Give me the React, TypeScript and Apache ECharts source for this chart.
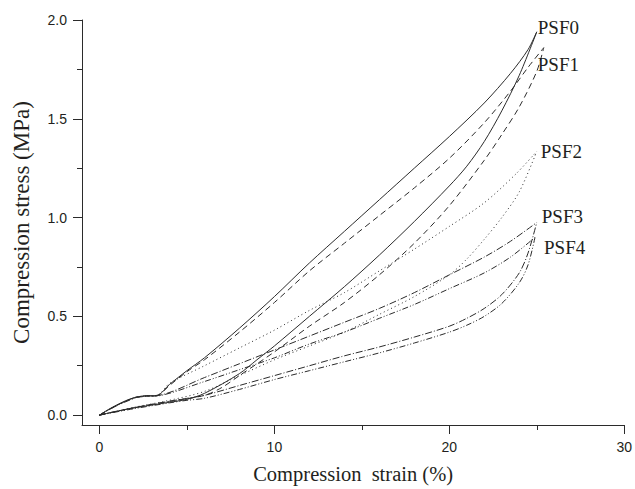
import React, { useEffect, useRef } from "react";
import * as echarts from "echarts";

// strain (%) , stress (MPa) pairs
const psf0Load = [[0,0],[0.5,0.028],[1,0.052],[1.5,0.073],[2,0.089],[2.5,0.097],[3.3,0.1],[4,0.155],[5,0.225],[6,0.29],[8,0.44],[10,0.6],[12,0.77],[14,0.93],[16,1.09],[18,1.25],[20,1.41],[22,1.58],[23.5,1.73],[24.5,1.85],[25,1.94]];
const psf0Unload = [[0,0],[1,0.02],[2,0.037],[4,0.065],[5,0.08],[6,0.11],[8,0.21],[9,0.28],[10,0.35],[12,0.5],[14,0.65],[16,0.81],[18,0.98],[20,1.16],[21,1.26],[22,1.385],[23,1.54],[24,1.72],[25,1.94]];
const psf1Load = [[0,0],[0.5,0.026],[1,0.05],[1.5,0.071],[2,0.088],[2.5,0.096],[3.3,0.1],[4,0.15],[5,0.22],[6,0.28],[8,0.42],[10,0.57],[12,0.73],[14,0.87],[16,1.01],[18,1.15],[20,1.3],[22,1.48],[23.5,1.64],[24.5,1.76],[25.4,1.86]];
const psf1Unload = [[0,0],[2,0.038],[4,0.07],[6,0.1],[7,0.14],[8,0.2],[10,0.32],[12,0.45],[14,0.57],[16,0.71],[18,0.87],[20,1.06],[22,1.29],[23,1.42],[24,1.56],[25,1.74],[25.4,1.86]];
const psf2Load = [[0,0],[1,0.05],[2,0.088],[2.5,0.096],[3.3,0.1],[4,0.16],[6,0.25],[8,0.34],[10,0.43],[12,0.53],[14,0.62],[16,0.73],[18,0.84],[20,0.955],[22,1.075],[23.8,1.22],[25,1.335]];
const psf2Unload = [[0,0],[2,0.04],[4,0.075],[6,0.12],[8,0.2],[10,0.28],[12,0.35],[14,0.42],[16,0.51],[18,0.6],[20,0.71],[21,0.79],[22,0.89],[23,1.0],[24,1.13],[25,1.335]];
const psf3Load = [[0,0],[1,0.05],[2,0.088],[2.5,0.096],[3.4,0.1],[6,0.19],[8,0.26],[10,0.33],[12,0.4],[14,0.47],[16,0.54],[18,0.62],[20,0.71],[22,0.8],[23.5,0.88],[25,0.975]];
const psf3Unload = [[0,0],[2,0.038],[4,0.07],[5,0.085],[6,0.1],[8,0.15],[10,0.2],[12,0.25],[14,0.3],[16,0.345],[18,0.395],[20,0.45],[21,0.49],[22,0.54],[23,0.61],[24,0.72],[24.5,0.82],[25,0.975]];
const psf4Load = [[0,0],[1,0.048],[2,0.085],[2.5,0.094],[3.4,0.098],[6,0.17],[8,0.23],[10,0.29],[12,0.36],[14,0.42],[16,0.49],[18,0.56],[20,0.64],[22,0.72],[23.5,0.8],[24.9,0.9]];
const psf4Unload = [[0,0],[2,0.033],[4,0.062],[5,0.075],[6,0.085],[8,0.13],[10,0.18],[12,0.225],[14,0.27],[16,0.315],[18,0.365],[20,0.42],[21,0.455],[22,0.5],[23,0.565],[24,0.67],[24.5,0.76],[24.9,0.9]];

const sampleNames = ["PSF0", "PSF1", "PSF2", "PSF3", "PSF4"];
const xMajorTicks = [0, 10, 20, 30];
const xMinorTicks = [5, 15, 25];
const yMajorTicks = [0, 0.5, 1.0, 1.5, 2.0];
const yMinorTicks = [0.25, 0.75, 1.25, 1.75];

const LINE = "#2b2b2b";
const TEXT = "#231f20";

export default function App() {
  const ref = useRef<HTMLDivElement>(null);
  useEffect(() => {
    if (!ref.current) return;
    const chart = echarts.init(ref.current, undefined, { renderer: "svg" });
    const dashes: any[] = ["solid", [6, 4], [1, 3], [7, 2, 1, 2], [6, 2, 1, 2, 1, 2]];
    const loads = [psf0Load, psf1Load, psf2Load, psf3Load, psf4Load];
    const unloads = [psf0Unload, psf1Unload, psf2Unload, psf3Unload, psf4Unload];
    const labelOffsets = [[1, -4], [-6, 17], [4, 0], [5, -6], [9, 10]];
    const series: any[] = [];
    sampleNames.forEach((n, i) => {
      const common = {
        type: "line",
        showSymbol: false,
        smooth: 0.3,
        xAxisIndex: 0,
        yAxisIndex: 0,
        lineStyle: { color: LINE, width: 1, type: dashes[i] },
        emphasis: { disabled: true },
      };
      series.push({
        ...common,
        name: n,
        data: loads[i],
        endLabel: {
          show: true,
          formatter: n,
          distance: 0,
          offset: labelOffsets[i],
          align: "left",
          verticalAlign: "middle",
          fontFamily: "Liberation Serif",
          fontSize: 19,
          color: TEXT,
        },
      });
      series.push({ ...common, name: n + " unload", data: unloads[i] });
    });
    chart.setOption({
      animation: false,
      backgroundColor: "#fff",
      grid: { left: 82, top: 20, right: 9, bottom: 64, containLabel: false },
      xAxis: [
        {
          type: "value", min: -1, max: 30, position: "bottom",
          axisLine: { show: true, onZero: false, lineStyle: { color: LINE, width: 1 } },
          axisTick: { show: true, length: 9, customValues: xMajorTicks, lineStyle: { color: LINE } },
          axisLabel: { customValues: xMajorTicks, margin: 15, fontFamily: "Liberation Sans", fontSize: 14, color: TEXT },
          splitLine: { show: false },
          name: "Compression  strain (%)", nameLocation: "middle", nameGap: 38,
          nameTextStyle: { fontFamily: "Liberation Serif", fontSize: 20.5, color: TEXT },
        },
        {
          type: "value", min: -1, max: 30, position: "bottom",
          axisLine: { show: false, onZero: false },
          axisTick: { show: true, length: 5, customValues: xMinorTicks, lineStyle: { color: LINE } },
          axisLabel: { show: false }, splitLine: { show: false },
        },
      ],
      yAxis: [
        {
          type: "value", min: -0.05, max: 2.0, position: "left",
          axisLine: { show: true, onZero: false, lineStyle: { color: LINE, width: 1 } },
          axisTick: { show: true, length: 9, customValues: yMajorTicks, lineStyle: { color: LINE } },
          axisLabel: { customValues: yMajorTicks, margin: 15, fontFamily: "Liberation Sans", fontSize: 14, color: TEXT, formatter: (v: number) => v.toFixed(1) },
          splitLine: { show: false },
          name: "Compression stress (MPa)", nameLocation: "middle", nameGap: 49,
          nameTextStyle: { fontFamily: "Liberation Serif", fontSize: 23, color: TEXT },
        },
        {
          type: "value", min: -0.05, max: 2.0, position: "left",
          axisLine: { show: false, onZero: false },
          axisTick: { show: true, length: 5, customValues: yMinorTicks, lineStyle: { color: LINE } },
          axisLabel: { show: false }, splitLine: { show: false },
        },
      ],
      series,
    });
    return () => chart.dispose();
  }, []);
  return <div ref={ref} style={{ width: 635, height: 489, position: "absolute", left: 0, top: 0 }} />;
}
